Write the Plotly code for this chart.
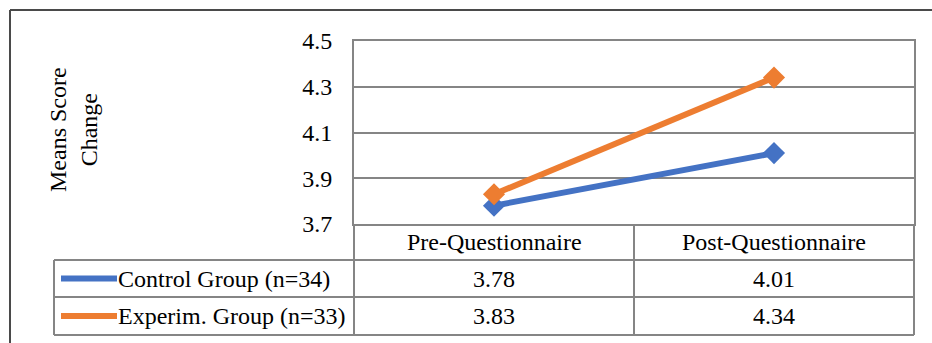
import plotly.graph_objects as go

# Data
categories = ["Pre-Questionnaire", "Post-Questionnaire"]
series_names = ["Control Group (n=34)", "Experim. Group (n=33)"]
control_values = [3.78, 4.01]
experim_values = [3.83, 4.34]
y_ticks = [3.7, 3.9, 4.1, 4.3, 4.5]
y_title = "Means Score<br>Change"

W, H = 932, 343
series_values = [control_values, experim_values]
colors = ["#4472C4", "#ED7D31"]
grid_color = "#858585"
frame_color = "#4a4a4a"
font_family = "Liberation Serif, Times New Roman, serif"
font_size = 24

# Pixel geometry of the chart + data table
plot_l, plot_r = 354, 914
plot_t, plot_b = 41, 224
row_edges = [224, 260, 297, 335]
table_l = 54


def px(x):
    return x / W


def py(y):
    return 1 - y / H


x_pos = [i + 0.5 for i in range(len(categories))]

fig = go.Figure()
for name, vals, col in zip(series_names, series_values, colors):
    fig.add_trace(go.Scatter(
        x=x_pos, y=vals, name=name, mode="lines+markers",
        line=dict(color=col, width=6),
        marker=dict(symbol="diamond", size=17, color=col),
        showlegend=False,
    ))

shapes = []


def hline(x0, x1, y, color=grid_color, w=2):
    shapes.append(dict(type="line", xref="paper", yref="paper",
                       x0=px(x0), x1=px(x1), y0=py(y), y1=py(y),
                       line=dict(color=color, width=w)))


def vline(x, y0, y1, color=grid_color, w=2):
    shapes.append(dict(type="line", xref="paper", yref="paper",
                       x0=px(x), x1=px(x), y0=py(y0), y1=py(y1),
                       line=dict(color=color, width=w)))


# Outer chart frame (top and left edges)
hline(10, 940, 10, frame_color, 2)
vline(10, 10, 350, frame_color, 2)

# Data table grid
for y in row_edges[1:]:
    hline(table_l, plot_r, y)
vline(table_l, row_edges[1], row_edges[-1])
vline(plot_l, plot_b, row_edges[-1])
vline(plot_r, plot_b, row_edges[-1])
col_w = (plot_r - plot_l) / len(categories)
for i in range(1, len(categories)):
    vline(plot_l + i * col_w, plot_b, row_edges[-1])

annotations = []
txt_font = dict(family=font_family, size=font_size, color="#000000")

# Column headers
for i, cat in enumerate(categories):
    annotations.append(dict(
        xref="paper", yref="paper", x=px(plot_l + (i + 0.5) * col_w),
        y=py((row_edges[0] + row_edges[1]) / 2), text=cat, showarrow=False,
        xanchor="center", yanchor="middle", font=txt_font))

# Series rows: legend key, name and values
for r, (name, vals, col) in enumerate(zip(series_names, series_values, colors)):
    yc = (row_edges[r + 1] + row_edges[r + 2]) / 2
    shapes.append(dict(type="line", xref="paper", yref="paper",
                       x0=px(61), x1=px(117), y0=py(yc), y1=py(yc),
                       line=dict(color=col, width=6)))
    annotations.append(dict(
        xref="paper", yref="paper", x=px(116), y=py(yc), text=name,
        showarrow=False, xanchor="left", yanchor="middle", font=txt_font))
    for i, v in enumerate(vals):
        annotations.append(dict(
            xref="paper", yref="paper", x=px(plot_l + (i + 0.5) * col_w),
            y=py(yc), text=f"{v:.2f}", showarrow=False,
            xanchor="center", yanchor="middle", font=txt_font))

# Rotated y-axis title
annotations.append(dict(
    xref="paper", yref="paper", x=px(73), y=py(130), text=y_title,
    showarrow=False, textangle=-90, xanchor="center", yanchor="middle",
    font=txt_font))

fig.update_layout(
    width=W, height=H,
    margin=dict(l=0, r=0, t=0, b=0, autoexpand=False),
    paper_bgcolor="white", plot_bgcolor="white",
    xaxis=dict(domain=[px(plot_l), px(plot_r)], range=[0, len(categories)],
               showticklabels=False, showgrid=False, zeroline=False,
               showline=True, mirror=True, linecolor=grid_color, linewidth=2,
               automargin=False),
    yaxis=dict(domain=[py(plot_b), py(plot_t)], range=[y_ticks[0], y_ticks[-1]],
               tickvals=y_ticks, ticktext=[f"{t:.1f}" for t in y_ticks],
               showgrid=True, gridcolor=grid_color, gridwidth=2,
               zeroline=False, showline=True, mirror=True,
               linecolor=grid_color, linewidth=2,
               ticklabelstandoff=15, automargin=False,
               tickfont=dict(family=font_family, size=font_size, color="#000000")),
    shapes=shapes, annotations=annotations,
)

fig.write_html("out.html")
